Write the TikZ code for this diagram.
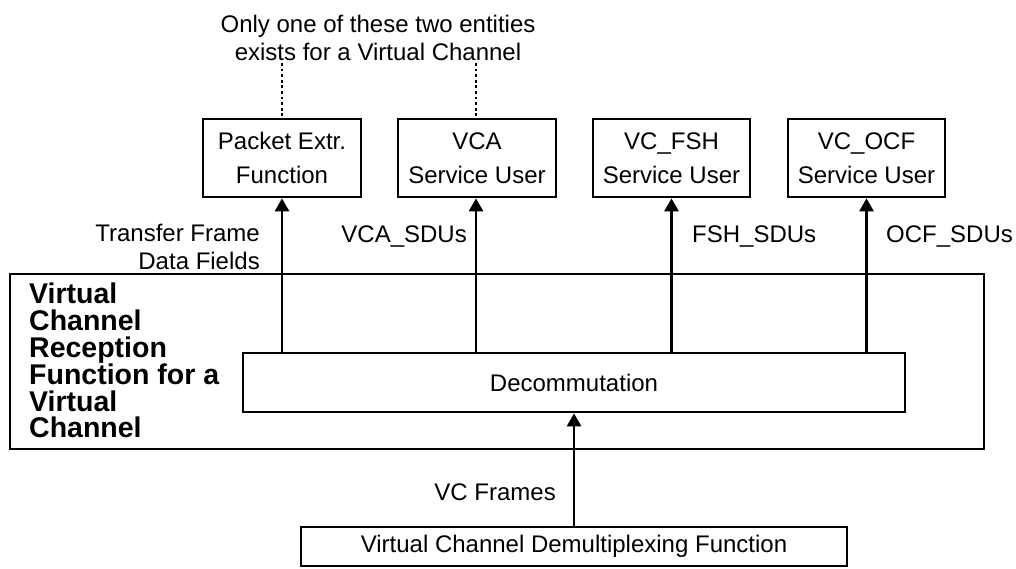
\documentclass[tikz,border=0pt]{standalone}
\usepackage{fontspec}
\setmainfont{Liberation Sans}
\usetikzlibrary{arrows.meta}
\begin{document}
\begin{tikzpicture}[x=1pt,y=-1pt,
  every node/.style={inner sep=0pt},
  box/.style={draw,line width=2.7pt,rectangle,align=center,font=\fontsize{24}{34}\selectfont},
  lbl/.style={align=right,font=\fontsize{24}{28}\selectfont},
  flow/.style={line width=2.7pt,-{Triangle[length=13pt,width=14pt]}},
  dots/.style={line width=2.8pt,dash pattern=on 2.8pt off 2.8pt}
]
\useasboundingbox (0,0) rectangle (1016,568);
% top note
\node[align=center,font=\fontsize{24}{28}\selectfont,anchor=base] (note) at (378,60) {Only one of these two entities\\exists for a Virtual Channel};
\coordinate (d1) at (282,63);
\coordinate (d2) at (476,63);
% service users
\node[box,minimum width=158pt,minimum height=78pt] (pkt) at (282,158) {Packet Extr.\\Function};
\node[box,minimum width=158pt,minimum height=78pt] (vca) at (477,158) {VCA\\Service User};
\node[box,minimum width=157pt,minimum height=78pt] (fsh) at (671.5,158) {VC\_FSH\\Service User};
\node[box,minimum width=157pt,minimum height=78pt] (ocf) at (866.5,158) {VC\_OCF\\Service User};
% outer reception function
\node[draw,line width=2.7pt,minimum width=974pt,minimum height=175pt] (outer) at (497,361.5) {};
\node[anchor=north west,align=left,font=\bfseries\fontsize{28.5}{26.8}\selectfont] (title) at (29,283) {Virtual\\Channel\\Reception\\Function for a\\Virtual\\Channel};
% decommutation
\node[box,minimum width=662pt,minimum height=59pt] (dec) at (574,382.5) {Decommutation};
% demux
\node[box,minimum width=546pt,minimum height=39pt] (demux) at (574,546.5) {Virtual Channel Demultiplexing Function};
% connectors
\draw[dots] (d1) -- (pkt.north);
\draw[dots] (d2) -- (vca.north -| d2);
\draw[flow] (dec.north -| pkt.south) -- (pkt.south);
\draw[flow] (dec.north -| d2) -- (vca.south -| d2);
\draw[flow] (dec.north -| fsh.south) -- (fsh.south);
\draw[flow] (dec.north -| ocf.south) -- (ocf.south);
\draw[flow] (demux.north) -- (demux.north |- dec.south);
% labels
\node[lbl,anchor=east] (l1) at (260,247) {Transfer Frame\\Data Fields};
\node[lbl,anchor=east] (l2) at (467,237) {VCA\_SDUs};
\node[lbl,anchor=west] (l3) at (692,237) {FSH\_SDUs};
\node[lbl,anchor=west] (l4) at (886,237) {OCF\_SDUs};
\node[lbl,anchor=east] (l5) at (556,492) {VC Frames};
\end{tikzpicture}
\end{document}
